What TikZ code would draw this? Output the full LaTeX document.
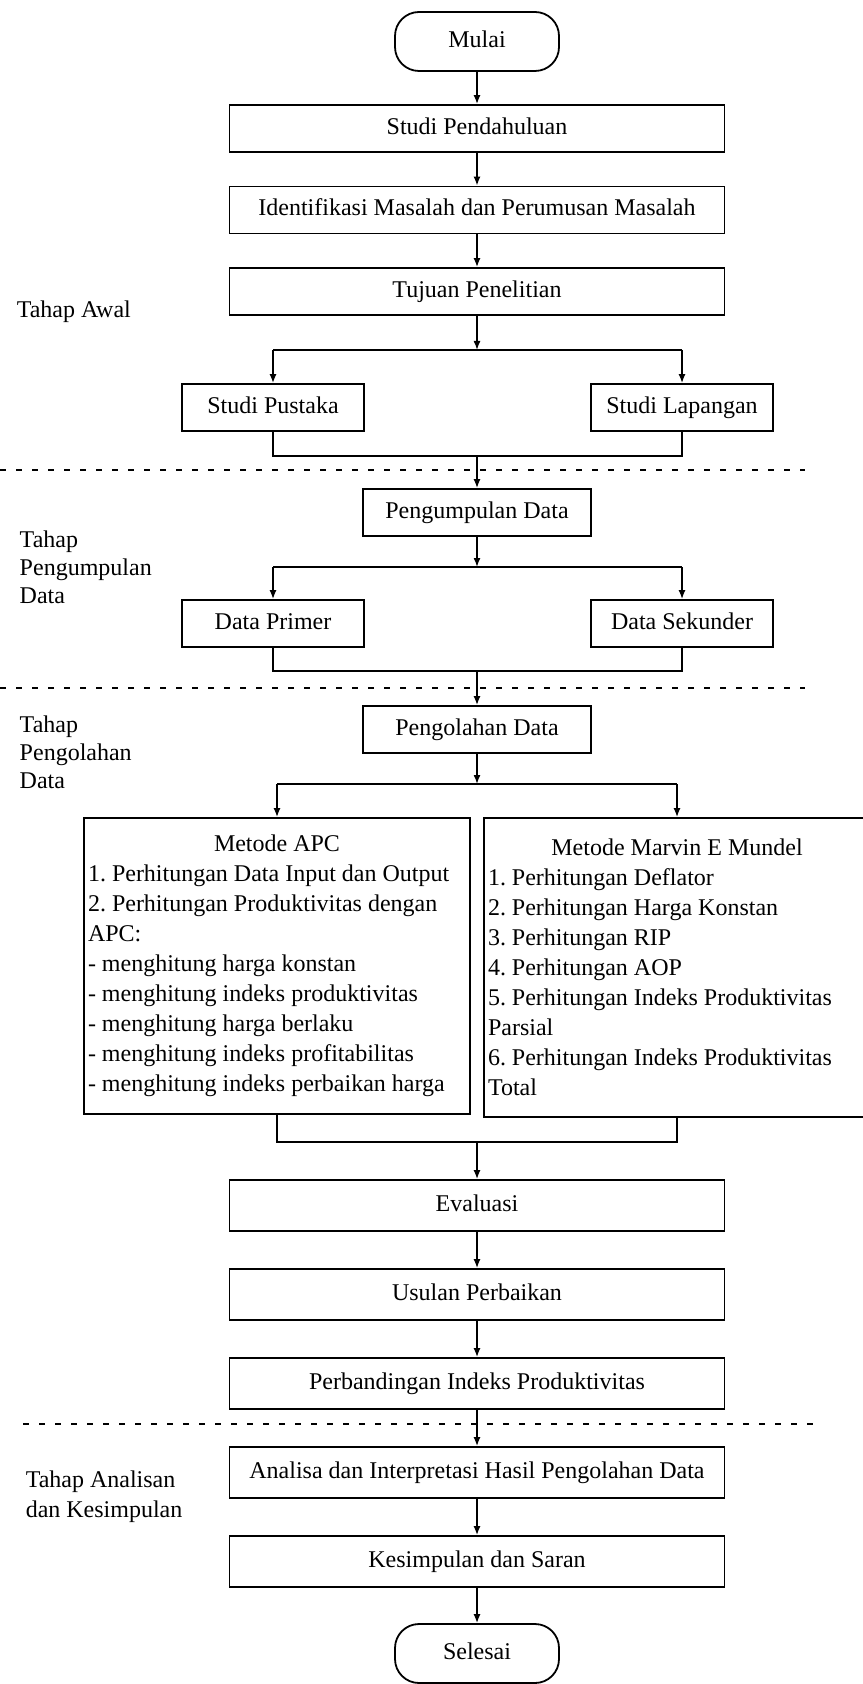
\documentclass[tikz,border=0pt]{standalone}
\usepackage{fontspec}
\setmainfont{Liberation Serif}
\usetikzlibrary{arrows.meta,calc,positioning}

\tikzset{
  stage/.style={draw,line width=0.9pt,minimum width=247.5pt,minimum height=23.5pt,inner sep=2pt,text height=8.5pt,text depth=2.5pt},
  side/.style={stage,minimum width=91pt},
  mid/.style={stage,minimum width=114pt},
  term/.style={draw,line width=0.9pt,rounded corners=12pt,minimum width=82pt,minimum height=29.5pt,text height=8.5pt,text depth=2.5pt},
  method/.style={draw,line width=0.9pt,text width=189pt,align=flush left,minimum height=148pt,inner sep=2pt},
  phase/.style={align=flush left,anchor=west,inner sep=0pt},
  divider/.style={line width=0.6pt,dash pattern=on 3pt off 5pt}
}
\newcommand{\methodtitle}[1]{\makebox[189pt][c]{#1}}

\begin{document}
\begin{tikzpicture}[x=0.5pt,y=-0.5pt,font=\fontsize{12}{15}\selectfont\frenchspacing,line width=0.75pt,>={Latex[length=4.5pt,width=3.5pt]}]
\useasboundingbox (0,0) rectangle (862,1684);

% tahap awal
\node[term] (mulai) at (477,41.5) {Mulai};
\node[stage] (pendahuluan) at (477,128.5) {Studi Pendahuluan};
\node[stage] (identifikasi) at (477,210) {Identifikasi Masalah dan Perumusan Masalah};
\node[stage] (tujuan) at (477,291.5) {Tujuan Penelitian};
\node[side] (pustaka) at (273,407.5) {Studi Pustaka};
\node[side] (lapangan) at (682,407.5) {Studi Lapangan};
\node[phase] (awal) at (16,312) {Tahap Awal};

% tahap pengumpulan data
\node[mid] (kumpul) at (477,512.5) {Pengumpulan Data};
\node[side] (primer) at (273,623.5) {Data Primer};
\node[side] (sekunder) at (682,623.5) {Data Sekunder};
\node[phase,font=\fontsize{12}{14}\selectfont] (tkumpul) at (19,567.5) {Tahap\\Pengumpulan\\Data};

% tahap pengolahan data
\node[mid] (olah) at (477,729.5) {Pengolahan Data};
\node[phase,font=\fontsize{12}{14}\selectfont] (tolah) at (19,752) {Tahap\\Pengolahan\\Data};
\node[method] (apc) at (277,966) {\methodtitle{Metode APC}\\
1. Perhitungan Data Input dan Output\\
2. Perhitungan Produktivitas dengan\\
APC:\\
- menghitung harga konstan\\
- menghitung indeks produktivitas\\
- menghitung harga berlaku\\
- menghitung indeks profitabilitas\\
- menghitung indeks perbaikan harga};
\node[method,minimum height=149.5pt] (marvin) at (677,967.5) {\methodtitle{Metode Marvin E Mundel}\\
1. Perhitungan Deflator\\
2. Perhitungan Harga Konstan\\
3. Perhitungan RIP\\
4. Perhitungan AOP\\
5. Perhitungan Indeks Produktivitas\\
Parsial\\
6. Perhitungan Indeks Produktivitas\\
Total};
\node[stage,minimum height=25.5pt] (evaluasi) at (477,1205.5) {Evaluasi};
\node[stage,minimum height=25.5pt] (usulan) at (477,1294.5) {Usulan Perbaikan};
\node[stage,minimum height=25.5pt] (banding) at (477,1383.5) {Perbandingan Indeks Produktivitas};

% tahap analisa dan kesimpulan
\node[stage,minimum height=25.5pt] (analisa) at (477,1472.5) {Analisa dan Interpretasi Hasil Pengolahan Data};
\node[stage,minimum height=25.5pt] (simpulan) at (477,1561.5) {Kesimpulan dan Saran};
\node[term] (selesai) at (477,1653.5) {Selesai};
\node[phase] (tanalisa) at (25,1497) {Tahap Analisan\\dan Kesimpulan};

% cabang dan gabungan
\coordinate (b1) at (477,350);
\coordinate (m1) at (477,456);
\coordinate (b2) at (477,567);
\coordinate (m2) at (477,671);
\coordinate (b3) at (477,784);
\coordinate (m3) at (477,1142);
\draw (pustaka.north |- b1) -- (lapangan.north |- b1);
\draw (primer.north |- b2) -- (sekunder.north |- b2);
\draw (apc.north |- b3) -- (marvin.north |- b3);
\draw (pustaka) |- (m1) -| (lapangan);
\draw (primer) |- (m2) -| (sekunder);
\draw (apc) |- (m3) -| (marvin);

\path[->]
(mulai) edge (pendahuluan)
(pendahuluan) edge (identifikasi)
(identifikasi) edge (tujuan)
(tujuan) edge (b1)
(pustaka.north |- b1) edge (pustaka)
(lapangan.north |- b1) edge (lapangan)
(m1) edge (kumpul)
(kumpul) edge (b2)
(primer.north |- b2) edge (primer)
(sekunder.north |- b2) edge (sekunder)
(m2) edge (olah)
(olah) edge (b3)
(apc.north |- b3) edge (apc)
(marvin.north |- b3) edge (marvin)
(m3) edge (evaluasi)
(evaluasi) edge (usulan)
(usulan) edge (banding)
(banding) edge (analisa)
(analisa) edge (simpulan)
(simpulan) edge (selesai);

% garis batas tahap
\draw[divider] (0,470) -- (805,470);
\draw[divider] (0,688) -- (805,688);
\draw[divider] (23,1424) -- (821,1424);
\end{tikzpicture}
\end{document}
